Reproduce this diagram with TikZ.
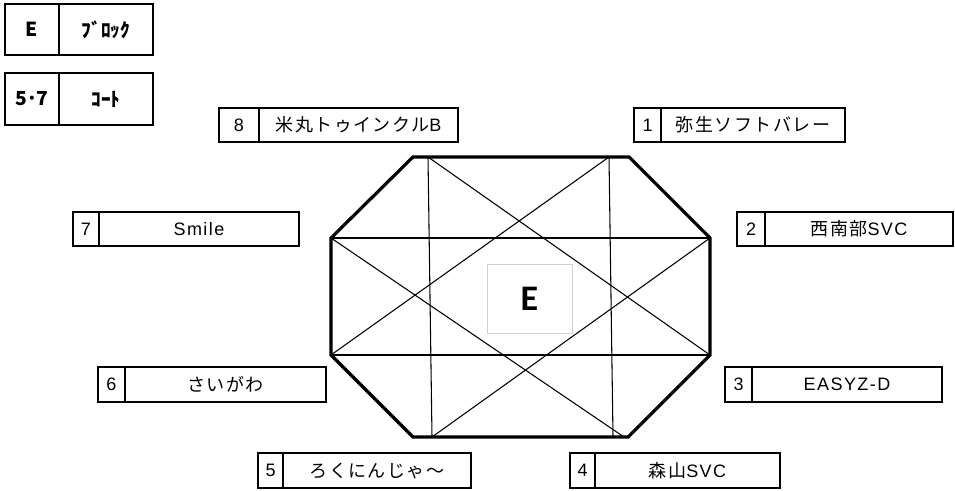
\documentclass[tikz,border=0pt]{standalone}
\usepackage{fontspec}
\newfontfamily\jp{Noto Sans CJK JP}
\newfontfamily\jpwide[LetterSpace=8]{Noto Sans CJK JP}
\newfontfamily\lsf[LetterSpace=8]{Liberation Sans}
\newfontfamily\calib{Carlito}

\tikzset{
  entry/.style={draw, line width=1.6pt},
  entrytext/.style={font=\jpwide\fontsize{13.5}{15}\selectfont, inner sep=0pt},
  headtext/.style={font=\jp\bfseries\fontsize{14.5}{16}\selectfont, inner sep=0pt},
  court/.style={line width=2.4pt, line join=miter},
  midline/.style={line width=1.4pt},
  crossline/.style={line width=0.8pt}
}

\begin{document}
\begin{tikzpicture}[x=0.75pt,y=-0.75pt]
\useasboundingbox (0,0) rectangle (955,491);

% block and court header
\draw[entry] (5,4) rectangle (153,55);
\draw[entry] (59,4) -- (59,55);
\node[headtext] (blk) at (32,29.5) {E};
\node[headtext] (blklabel) at (106,29.5) {ﾌﾞﾛｯｸ};
\draw[entry] (5,73) rectangle (153,125);
\draw[entry] (59,73) -- (59,125);
\node[headtext] (crt) at (32,99) {5･7};
\node[headtext] (crtlabel) at (106,99) {ｺｰﾄ};

% team entries
\foreach \n/\xa/\xd/\xb/\ya/\yb/\team in {
    8/219/259/458/108/142/{米丸トゥインクル{\lsf B}},
    1/634/661/845/108/142/弥生ソフトバレー,
    7/73/99/299/212/246/{\lsf Smile},
    2/737/765/953/212/246/{西南部{\lsf SVC}},
    6/98/125/326/367/402/さいがわ,
    3/725/752/942/367/402/{\lsf EASYZ-D},
    5/258/283/471/453/488/ろくにんじゃ～,
    4/570/595/780/453/488/{森山{\lsf SVC}}}{
  \draw[entry] (\xa,\ya) rectangle (\xb,\yb);
  \draw[entry] (\xd,\ya) -- (\xd,\yb);
  \node[entrytext] (num\n) at ({(\xa+\xd)/2},{(\ya+\yb)/2}) {\lsf\n};
  \node[entrytext] (team\n) at ({(\xd+\xb)/2},{(\ya+\yb)/2}) {\team};
}

% court outline
\coordinate (tl) at (413,157);
\coordinate (tr) at (629,157);
\coordinate (ru) at (710,238);
\coordinate (rl) at (710,355);
\coordinate (br) at (628,437);
\coordinate (bl) at (413,437);
\coordinate (ll) at (331,355);
\coordinate (lu) at (331,238);

% inner points on the long sides
\coordinate (ti1) at (428,157);
\coordinate (ti2) at (609,157);
\coordinate (bi1) at (432,437);
\coordinate (bi2) at (613,437);
\coordinate (bi3) at (624,437);

\draw[midline] (lu) -- (ru);
\draw[midline] (ll) -- (rl);
\draw[crossline] (ti1) -- (bi1);
\draw[crossline] (ti2) -- (bi2);
\draw[crossline] (ti1) -- (rl);
\draw[crossline] (ti2) -- (ll);
\draw[crossline] (lu) -- (bi3);
\draw[crossline] (ru) -- (bi1);
\draw[court] (tl) -- (tr) -- (ru) -- (rl) -- (br) -- (bl) -- (ll) -- (lu) -- cycle;

% block mark
\node[draw=black!18, fill=white, line width=0.6pt, minimum width=63.75pt, minimum height=51.75pt,
      font=\calib\bfseries\fontsize{27}{30}\selectfont] (mark) at (529.5,298.5) {E};

\end{tikzpicture}
\end{document}
